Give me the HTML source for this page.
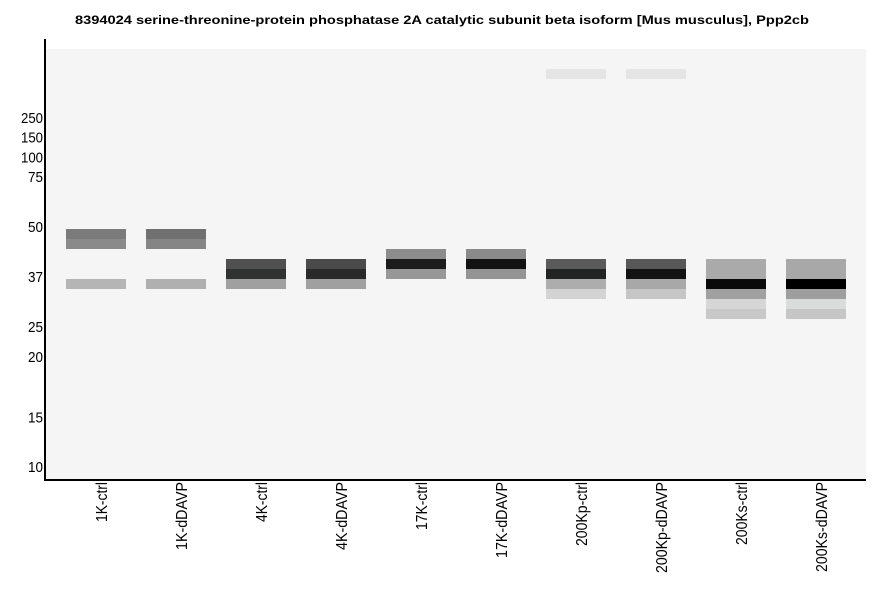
<!DOCTYPE html>
<html><head><meta charset="utf-8"><style>
html,body{margin:0;padding:0;background:#fff;}
svg{display:block;}
text{font-family:"Liberation Sans",Arial,sans-serif;fill:#000;}
</style></head><body>
<svg width="886" height="595" viewBox="0 0 886 595" xmlns="http://www.w3.org/2000/svg">
<rect x="0" y="0" width="886" height="595" fill="#fff"/>
<text x="442" y="24" text-anchor="middle" font-size="12" font-weight="bold" textLength="734" lengthAdjust="spacingAndGlyphs">8394024 serine-threonine-protein phosphatase 2A catalytic subunit beta isoform [Mus musculus], Ppp2cb</text>
<rect x="46" y="49" width="820" height="430" fill="#f4f5f4"/>
<!-- lane 1 -->
<rect x="66" y="229" width="60" height="10" fill="#7b7b7b"/>
<rect x="66" y="239" width="60" height="10" fill="#8a8a8a"/>
<rect x="66" y="279" width="60" height="10" fill="#b5b5b5"/>
<!-- lane 2 -->
<rect x="146" y="229" width="60" height="10" fill="#707070"/>
<rect x="146" y="239" width="60" height="10" fill="#858585"/>
<rect x="146" y="279" width="60" height="10" fill="#b0b0b0"/>
<!-- lane 3 -->
<rect x="226" y="259" width="60" height="10" fill="#505050"/>
<rect x="226" y="269" width="60" height="10" fill="#303232"/>
<rect x="226" y="279" width="60" height="10" fill="#a0a0a0"/>
<!-- lane 4 -->
<rect x="306" y="259" width="60" height="10" fill="#4a4a4a"/>
<rect x="306" y="269" width="60" height="10" fill="#2a2a2a"/>
<rect x="306" y="279" width="60" height="10" fill="#a0a0a0"/>
<!-- lane 5 -->
<rect x="386" y="249" width="60" height="10" fill="#8c8c8c"/>
<rect x="386" y="259" width="60" height="10" fill="#1c1c1c"/>
<rect x="386" y="269" width="60" height="10" fill="#979797"/>
<!-- lane 6 -->
<rect x="466" y="249" width="60" height="10" fill="#8a8a8a"/>
<rect x="466" y="259" width="60" height="10" fill="#121212"/>
<rect x="466" y="269" width="60" height="10" fill="#949494"/>
<!-- lane 7 -->
<rect x="546" y="69" width="60" height="10" fill="#e5e5e5"/>
<rect x="546" y="259" width="60" height="10" fill="#5a5a5a"/>
<rect x="546" y="269" width="60" height="10" fill="#222424"/>
<rect x="546" y="279" width="60" height="10" fill="#adadad"/>
<rect x="546" y="289" width="60" height="10" fill="#d3d3d3"/>
<!-- lane 8 -->
<rect x="626" y="69" width="60" height="10" fill="#e5e5e5"/>
<rect x="626" y="259" width="60" height="10" fill="#585858"/>
<rect x="626" y="269" width="60" height="10" fill="#121212"/>
<rect x="626" y="279" width="60" height="10" fill="#a8a8a8"/>
<rect x="626" y="289" width="60" height="10" fill="#c6c6c6"/>
<!-- lane 9 -->
<rect x="706" y="259" width="60" height="20" fill="#aaaaaa"/>
<rect x="706" y="279" width="60" height="10" fill="#0a0a0a"/>
<rect x="706" y="289" width="60" height="10" fill="#a0a0a0"/>
<rect x="706" y="299" width="60" height="10" fill="#d6d6d6"/>
<rect x="706" y="309" width="60" height="10" fill="#c8c8c8"/>
<!-- lane 10 -->
<rect x="786" y="259" width="60" height="20" fill="#a8a8a8"/>
<rect x="786" y="279" width="60" height="10" fill="#000000"/>
<rect x="786" y="289" width="60" height="10" fill="#9e9e9e"/>
<rect x="786" y="299" width="60" height="10" fill="#dadcdb"/>
<rect x="786" y="309" width="60" height="10" fill="#c6c6c6"/>
<!-- axes -->
<rect x="44" y="39" width="2" height="442" fill="#000"/>
<rect x="44" y="479" width="822" height="2" fill="#000"/>
<!-- y labels -->
<g font-size="15" text-anchor="end">
<text x="43" y="123" textLength="22" lengthAdjust="spacingAndGlyphs">250</text>
<text x="43" y="142.5" textLength="22" lengthAdjust="spacingAndGlyphs">150</text>
<text x="43" y="162.5" textLength="22" lengthAdjust="spacingAndGlyphs">100</text>
<text x="43" y="182" textLength="15" lengthAdjust="spacingAndGlyphs">75</text>
<text x="43" y="232" textLength="15" lengthAdjust="spacingAndGlyphs">50</text>
<text x="43" y="282" textLength="15" lengthAdjust="spacingAndGlyphs">37</text>
<text x="43" y="332" textLength="15" lengthAdjust="spacingAndGlyphs">25</text>
<text x="43" y="362" textLength="15" lengthAdjust="spacingAndGlyphs">20</text>
<text x="43" y="422.5" textLength="15" lengthAdjust="spacingAndGlyphs">15</text>
<text x="43" y="472" textLength="15" lengthAdjust="spacingAndGlyphs">10</text>
</g>
<!-- x labels -->
<g font-size="16" text-anchor="end">
<text transform="translate(107,482) rotate(-90)" textLength="40" lengthAdjust="spacingAndGlyphs">1K-ctrl</text>
<text transform="translate(187,482) rotate(-90)" textLength="68" lengthAdjust="spacingAndGlyphs">1K-dDAVP</text>
<text transform="translate(267,482) rotate(-90)" textLength="40" lengthAdjust="spacingAndGlyphs">4K-ctrl</text>
<text transform="translate(347,482) rotate(-90)" textLength="68" lengthAdjust="spacingAndGlyphs">4K-dDAVP</text>
<text transform="translate(427,482) rotate(-90)" textLength="48" lengthAdjust="spacingAndGlyphs">17K-ctrl</text>
<text transform="translate(507,482) rotate(-90)" textLength="76" lengthAdjust="spacingAndGlyphs">17K-dDAVP</text>
<text transform="translate(587,482) rotate(-90)" textLength="64" lengthAdjust="spacingAndGlyphs">200Kp-ctrl</text>
<text transform="translate(667,482) rotate(-90)" textLength="91" lengthAdjust="spacingAndGlyphs">200Kp-dDAVP</text>
<text transform="translate(747,482) rotate(-90)" textLength="63" lengthAdjust="spacingAndGlyphs">200Ks-ctrl</text>
<text transform="translate(827,482) rotate(-90)" textLength="90" lengthAdjust="spacingAndGlyphs">200Ks-dDAVP</text>
</g>
</svg>
</body></html>
